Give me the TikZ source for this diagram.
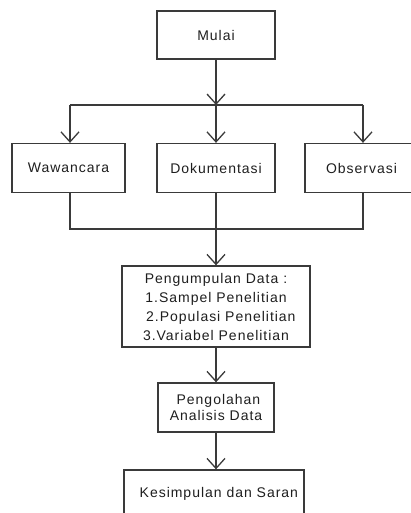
\documentclass[tikz,border=0pt]{standalone}
\usepackage{fontspec}
\setmainfont{Liberation Sans}[LetterSpace=7]
\usetikzlibrary{arrows.meta}
\definecolor{ln}{HTML}{3A3A3A}
\definecolor{tx}{HTML}{1E1E1E}
\tikzset{
  box/.style={draw=ln, line width=1.3pt, inner sep=0pt, text=tx, font=\fontsize{14}{19}\selectfont, align=center},
  conn/.style={draw=ln, line width=1.3pt},
  arr/.style={conn, -{Straight Barb[length=10pt,width=18pt,line width=1.3pt]}}
}
\begin{document}
\begin{tikzpicture}[x=1pt,y=-1pt]
\useasboundingbox (0,0) rectangle (411,513);
\node[box, minimum width=118pt, minimum height=48pt] (mulai) at (216,35) {Mulai};
\node[box, minimum width=113pt, minimum height=49pt] (waw) at (68.5,168) {Wawancara};
\node[box, minimum width=118pt, minimum height=49pt] (dok) at (216,168) {Dokumentasi};
\node[box, minimum width=113pt, minimum height=49pt] (obs) at (361.5,168) {Observasi};
\node[box, minimum width=188pt, minimum height=81pt] (peng) at (216,306.5) {Pengumpulan Data :\\1.Sampel Penelitian\\\ \ 2.Populasi Penelitian\\3.Variabel Penelitian};
\node[box, minimum width=116pt, minimum height=49pt, font=\fontsize{14}{15.5}\selectfont] (olah) at (216,407.5) {\ Pengolahan\\Analisis Data};
\node[box, minimum width=180pt, minimum height=48pt] (kes) at (214,494) {\ \ Kesimpulan dan Saran};
\coordinate (j1) at (216,105);
\coordinate (jl) at (70,105);
\coordinate (jr) at (363,105);
\coordinate (k1) at (216,229);
\coordinate (kl) at (70,229);
\coordinate (kr) at (363,229);
\draw[arr] (mulai.south) -- (j1);
\draw[conn] (jl) -- (jr);
\draw[arr] (jl) -- (jl |- waw.north);
\draw[arr] (j1) -- (dok.north);
\draw[arr] (jr) -- (jr |- obs.north);
\draw[conn] (waw.south -| kl) -- (kl) -- (kr) -- (obs.south -| kr);
\draw[conn] (dok.south) -- (k1);
\draw[arr] (k1) -- (peng.north);
\draw[arr] (peng.south) -- (olah.north);
\draw[arr] (olah.south) -- (olah.south |- kes.north);
\end{tikzpicture}
\end{document}
